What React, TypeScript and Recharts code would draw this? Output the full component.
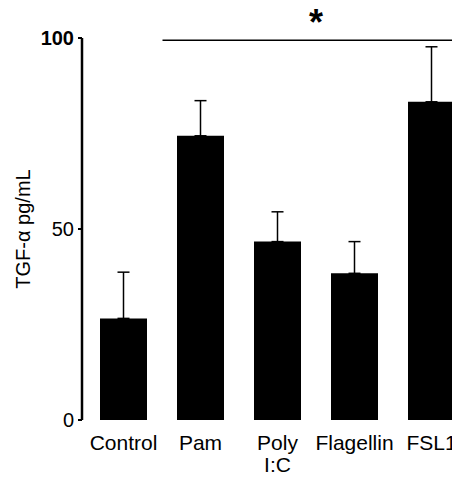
import { BarChart, Bar, XAxis, YAxis, ErrorBar, ReferenceLine } from 'recharts';

// groups on the x axis
const groups = ['Control', 'Pam', 'Poly I:C', 'Flagellin', 'FSL1'];
// mean TGF-α, pg/mL
const means = [26.6, 74.4, 46.7, 38.4, 83.3];
// upper error (SD), only drawn upwards
const errors = [12.1, 9.2, 7.8, 8.3, 14.4];
const yTicks = [0, 50, 100];
// significance bar: Pam..FSL1 vs control
const sigFrom = 'Pam';
const sigTo = 'FSL1';
const sigLevel = 99.4;
const sigMark = '*';

const data = groups.map((g, i) => ({ group: g, tgf: means[i], err: [0, errors[i]] }));

const FONT = '"Liberation Sans", Arial, Helvetica, sans-serif';

function GroupTick({ x, y, payload }: any) {
  const lines = String(payload.value).split(' ');
  return (
    <text x={x} y={y} textAnchor="middle" fontFamily={FONT} fontSize={21} fill="#000">
      {lines.map((l, i) => (
        <tspan key={i} x={x} dy={i === 0 ? 22 : 22}>
          {l}
        </tspan>
      ))}
    </text>
  );
}

function ValueTick({ x, y, payload }: any) {
  return (
    <text
      x={x}
      y={y}
      dy={7}
      textAnchor="end"
      fontFamily={FONT}
      fontSize={20}
      fontWeight={payload.value === 100 ? 'bold' : 'normal'}
      fill="#000"
    >
      {payload.value}
    </text>
  );
}

function SigLine(props: any) {
  const { x1, x2, y1 } = props;
  const left = x1 - 38;
  const right = x2 + 40;
  return (
    <g>
      <line x1={left} x2={right} y1={y1} y2={y1} stroke="#000" strokeWidth={1.5} />
      <text
        x={(x1 + x2) / 2}
        y={y1 - 5}
        textAnchor="middle"
        fontFamily={FONT}
        fontWeight="bold"
        fontSize={36}
        fill="#000"
      >
        {sigMark}
      </text>
    </g>
  );
}

export default function App() {
  return (
    <div style={{ margin: -8, width: 460, height: 480, overflow: 'hidden', background: '#fff' }}>
      <BarChart
        width={460}
        height={480}
        data={data}
        margin={{ top: 38, right: 0, bottom: 30, left: 0 }}
      >
        <XAxis
          dataKey="group"
          height={30}
          axisLine={false}
          tickLine={false}
          padding={{ left: 3, right: -10 }}
          interval={0}
          tick={<GroupTick />}
        />
        <YAxis
          width={82}
          domain={[0, 100]}
          ticks={yTicks}
          axisLine={{ stroke: '#000', strokeWidth: 2.5 }}
          tickLine={{ stroke: '#000', strokeWidth: 2 }}
          tickSize={4}
          tickMargin={4}
          tick={<ValueTick />}
          label={{
            value: 'TGF-α pg/mL',
            angle: -90,
            position: 'center',
            dx: -18,
            style: { fontFamily: FONT, fontSize: 20, fill: '#000', textAnchor: 'middle' },
          }}
        />
        <Bar dataKey="tgf" fill="#000" barSize={47} isAnimationActive={false}>
          <ErrorBar dataKey="err" width={6} stroke="#000" strokeWidth={1.5} isAnimationActive={false} />
        </Bar>
        <ReferenceLine
          segment={[
            { x: sigFrom, y: sigLevel },
            { x: sigTo, y: sigLevel },
          ]}
          ifOverflow="visible"
          shape={SigLine}
        />
      </BarChart>
    </div>
  );
}
